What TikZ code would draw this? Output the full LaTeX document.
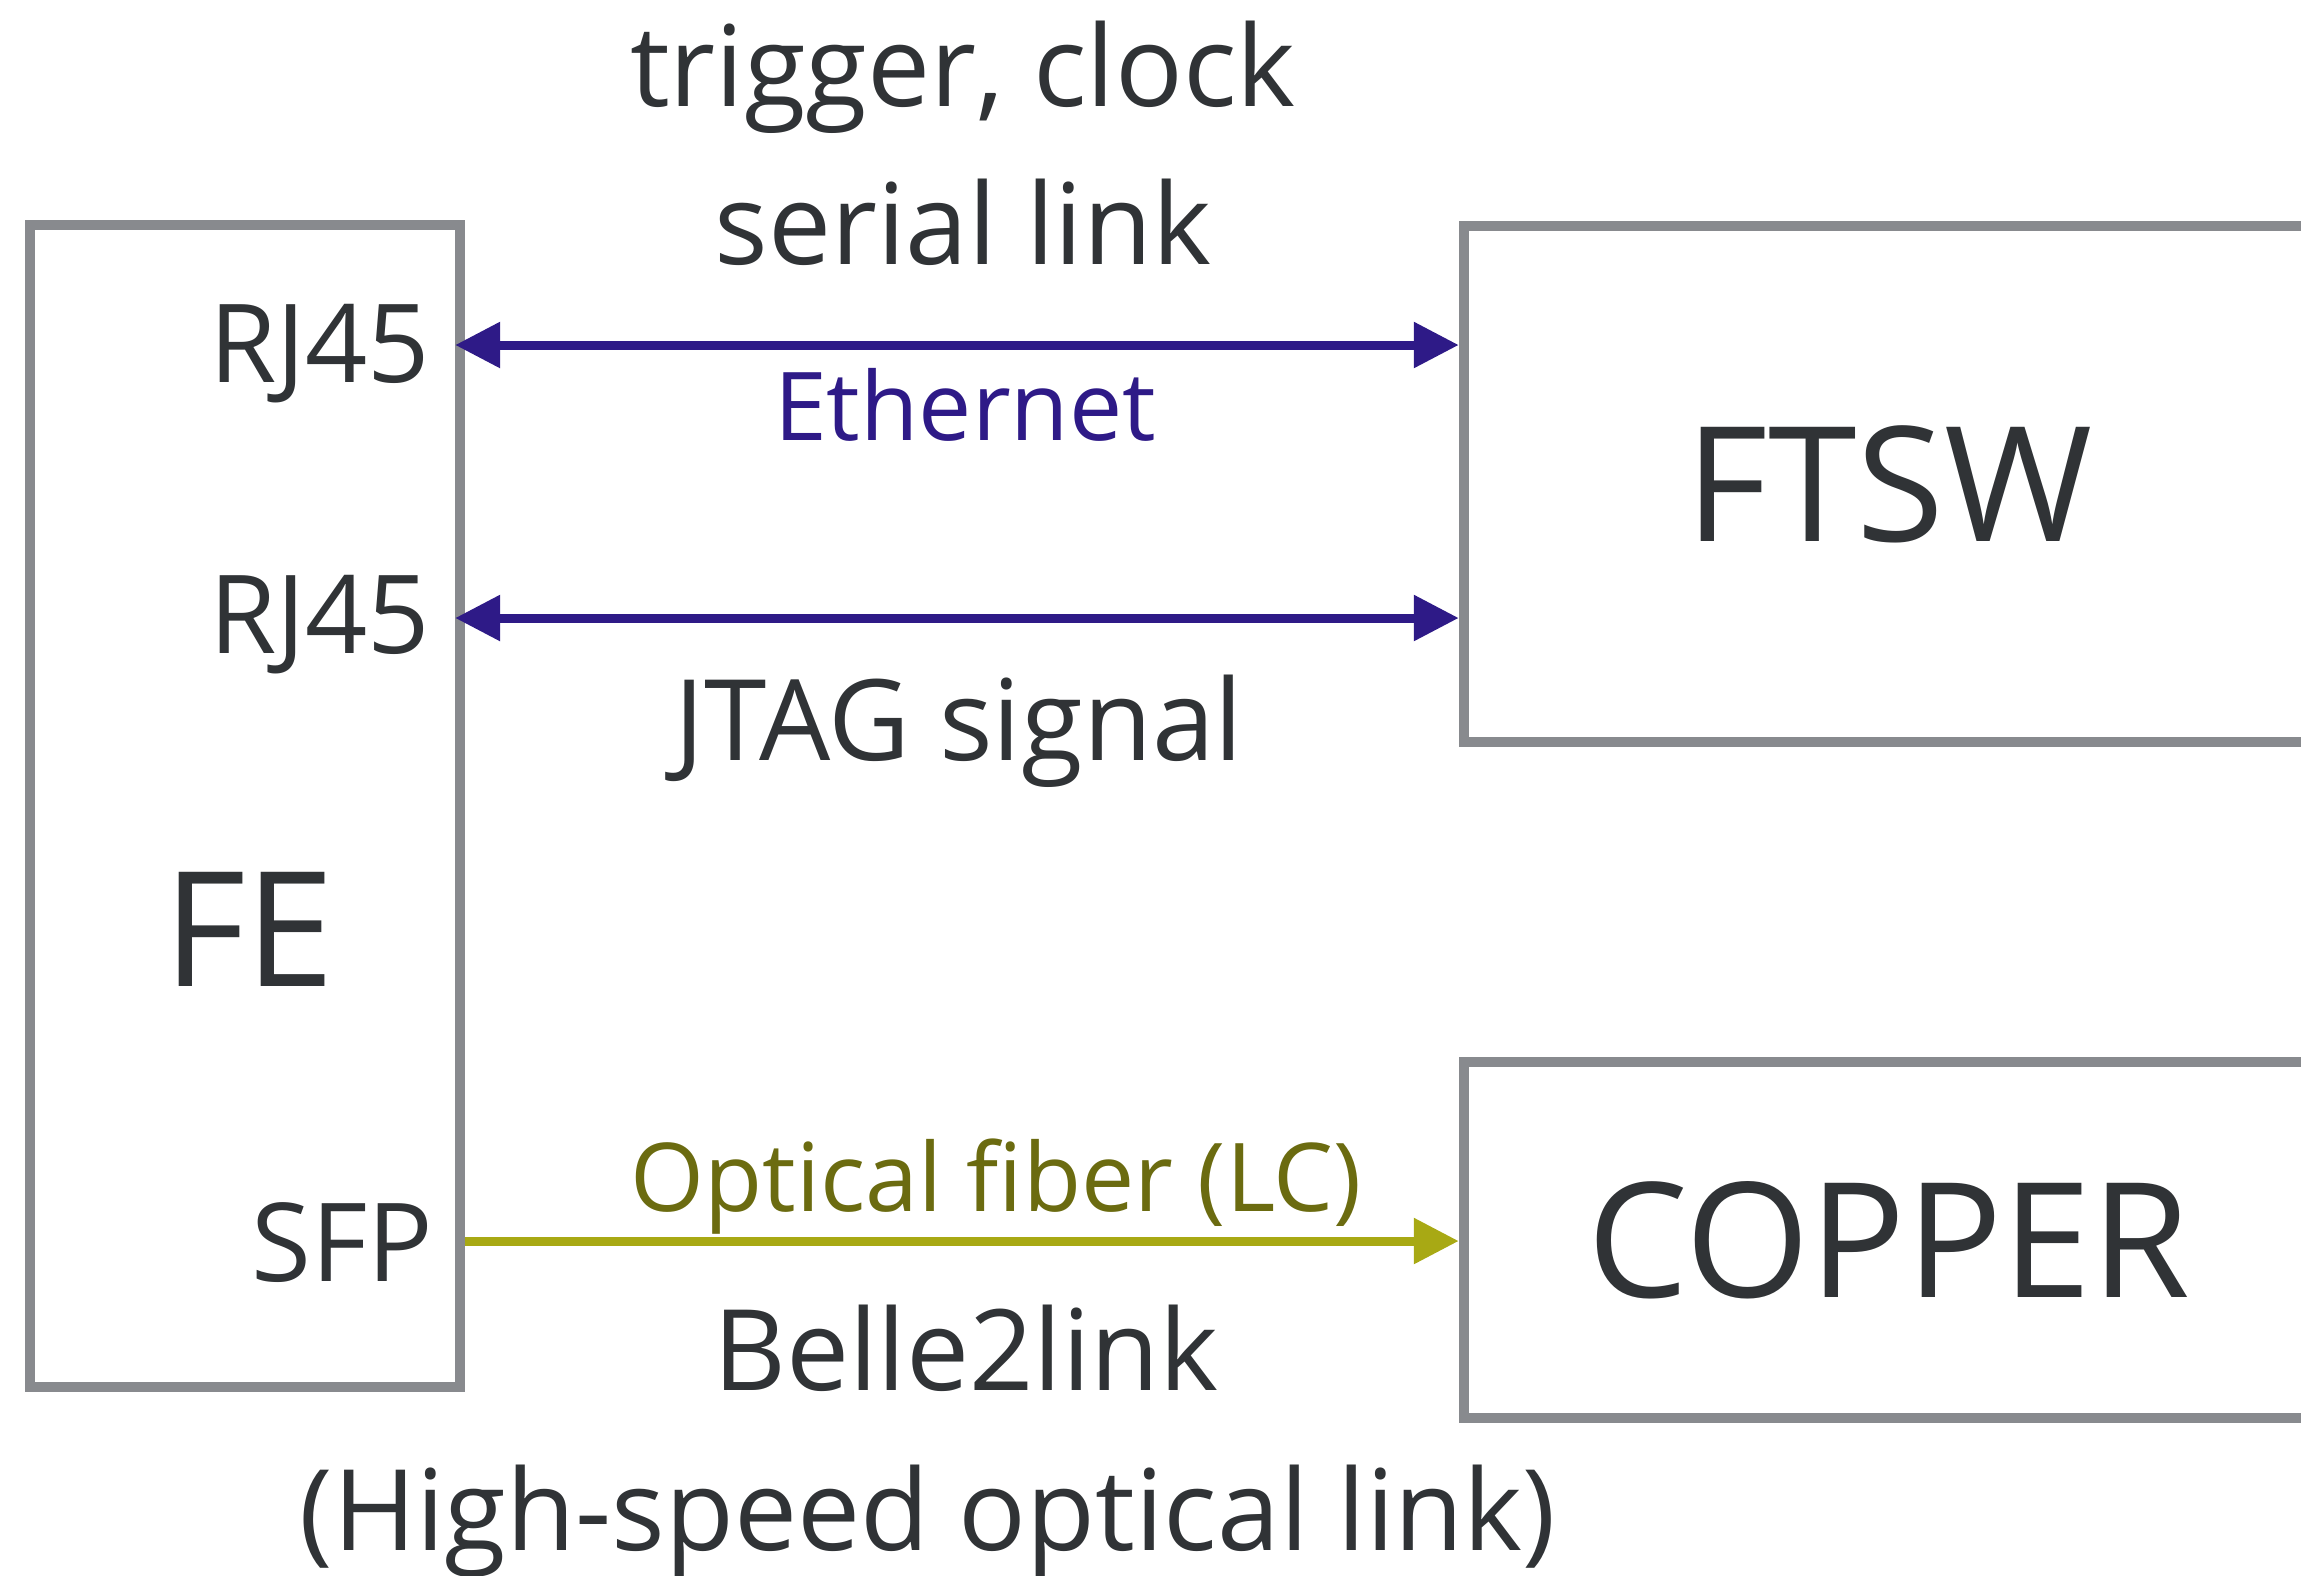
\documentclass[tikz,border=0pt]{standalone}
\usepackage{fontspec}
\setmainfont{Open Sans}
\usetikzlibrary{arrows.meta, positioning}

\definecolor{boxgray}{HTML}{888A8E}
\definecolor{txtdark}{HTML}{303336}
\definecolor{ethpurple}{HTML}{2E1A87}
\definecolor{fiberline}{HTML}{A8A914}
\definecolor{fibertext}{HTML}{6B6B10}

\begin{document}
\begin{tikzpicture}[x=0.01cm, y=-0.01cm,
    unit/.style={draw=boxgray, line width=1mm, inner sep=0pt, text=txtdark},
    big/.style={font=\fontsize{45.5}{52}\selectfont, text=txtdark, inner sep=0pt},
    mid/.style={font=\fontsize{32}{38}\selectfont, text=txtdark, inner sep=0pt},
    port/.style={font=\fontsize{31}{36}\selectfont, text=txtdark, inner sep=0pt},
    small/.style={font=\fontsize{27}{32}\selectfont, inner sep=0pt},
    link/.style={line width=0.9mm, ethpurple,
        {Triangle[length=4.5mm, width=4.4mm]}-{Triangle[length=4.5mm, width=4.4mm]}},
    fiber/.style={line width=0.9mm, fiberline, -{Triangle[length=4.5mm, width=4.4mm]}}]
    \useasboundingbox (0,0) rectangle (2301,1575);
    \clip (0,0) rectangle (2301,1575);

    % FE board
    \node[unit, minimum width=4.3cm, minimum height=11.61cm] (fe) at (245,806) {};
    \node[big, anchor=base] (felabel) at (249,986) {FE};
    \node[port, anchor=base east] (rjtop) at (431,382) {RJ45};
    \node[port, anchor=base east] (rjbot) at (431,653) {RJ45};
    \node[port, anchor=base east] (sfp) at (434,1281) {SFP};

    % FTSW and COPPER
    \node[unit, big, minimum width=8.5cm, minimum height=5.15cm] (ftsw) at (1889,484) {FTSW};
    \node[unit, big, minimum width=8.5cm, minimum height=3.56cm] (copper) at (1889,1240) {COPPER};

    % Ethernet line
    \coordinate (eth) at (0,345);
    \draw[link] ([xshift=-1mm]fe.east |- eth) -- (ftsw.west |- eth);
    \node[mid, anchor=base] (trig) at (963,106) {trigger, clock};
    \node[mid, anchor=base] (serial) at (963,264) {serial link};
    \node[small, anchor=base, text=ethpurple] (ethlabel) at (965,440) {Ethernet};

    % JTAG line
    \coordinate (jtag) at (0,618);
    \draw[link] ([xshift=-1mm]fe.east |- jtag) -- (ftsw.west |- jtag);
    \node[mid, anchor=base] (jtaglabel) at (959,760) {JTAG signal};

    % Belle2link
    \coordinate (b2l) at (0,1241);
    \draw[fiber] (fe.east |- b2l) -- (copper.west |- b2l);
    \node[small, anchor=base, text=fibertext] (optlabel) at (996,1211) {Optical fiber (LC)};
    \node[mid, anchor=base] (b2llabel) at (966,1390) {Belle2link};
    \node[mid, anchor=base] (hslabel) at (928,1550) {(High-speed optical link)};
\end{tikzpicture}
\end{document}
